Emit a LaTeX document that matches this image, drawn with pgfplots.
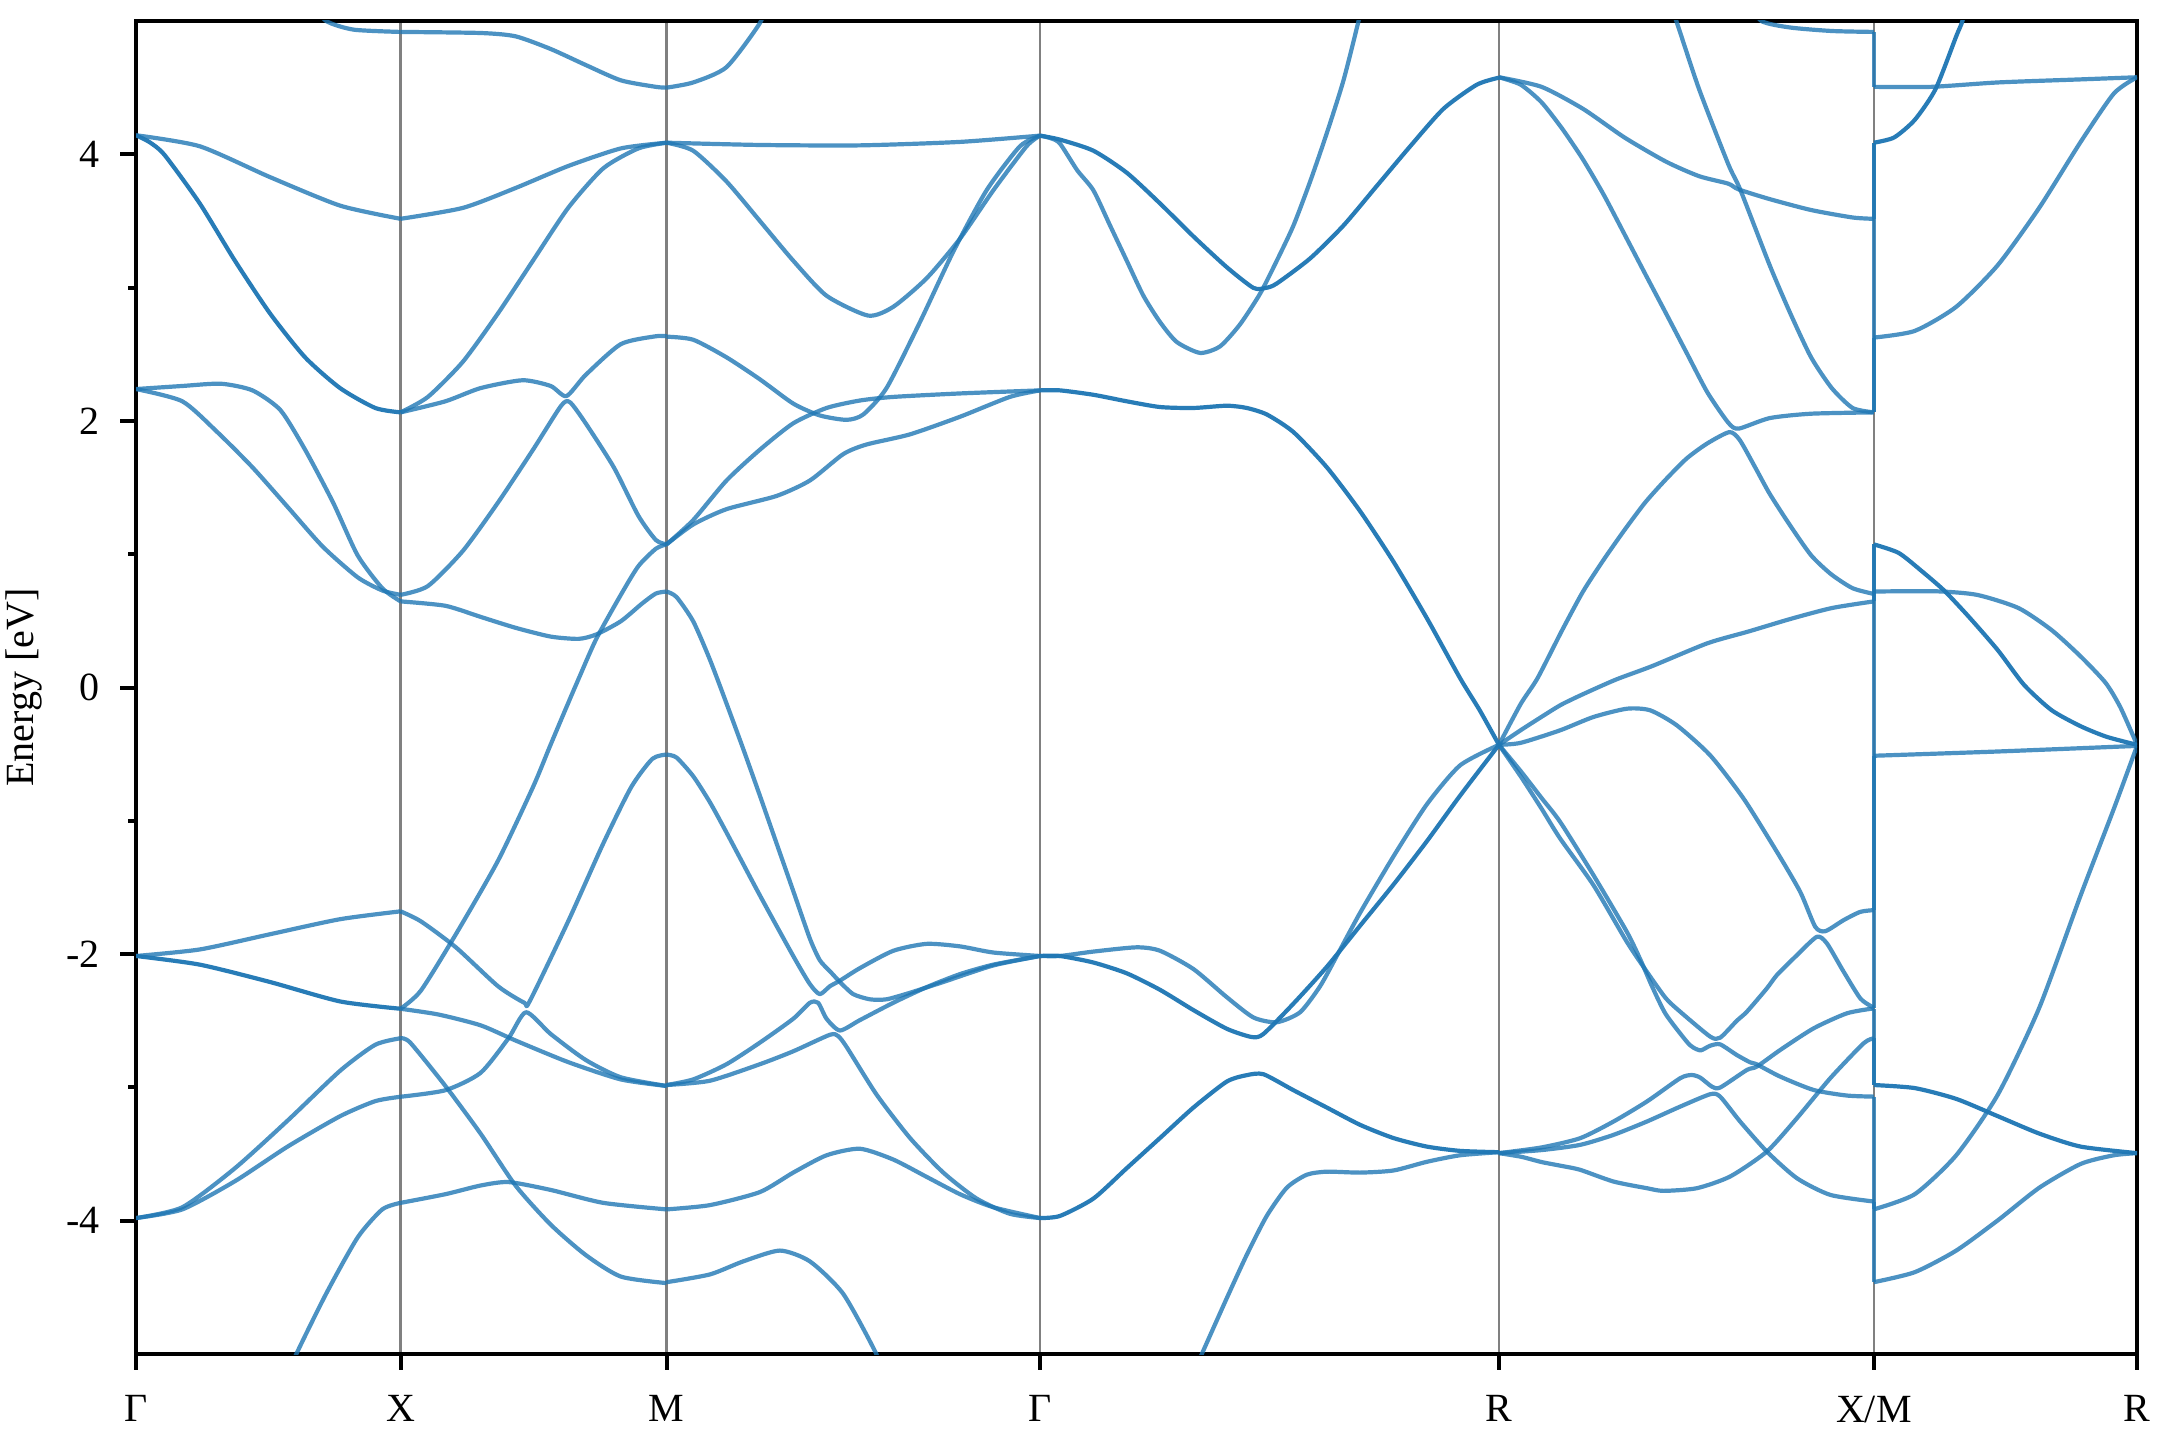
\documentclass[border=0pt]{standalone}
\usepackage{fontspec}
\setmainfont{Liberation Serif}
\usepackage{pgfplots}
\pgfplotsset{compat=1.18}
\definecolor{bandblue}{RGB}{31,119,180}
\tikzset{
  band/.style={color=bandblue, opacity=0.8, line width=1.05pt, line join=round, smooth, tension=0.4},
  deg/.style={band, opacity=0.96},
  vseg/.style={color=bandblue, opacity=0.8, line width=1.05pt},
}
\begin{document}
\begin{tikzpicture}
\begin{axis}[
  width=500.25pt, height=333.25pt, scale only axis,
  xmin=0, xmax=1452, ymin=-5, ymax=5,
  xtick={0,192,385,656,989,1261,1452},
  xticklabels={Γ,X,M,Γ,R,X/M,R},
  ytick={-4,-2,0,2,4},
  minor ytick={-3,-1,1,3},
  xtick pos=left, ytick pos=left,
  tick align=outside,
  major tick length=3.9pt, minor tick length=2pt,
  every tick/.style={black, line width=1pt},
  axis line style={line width=1.1pt},
  xmajorgrids, grid style={gray, line width=0.55pt},
  ylabel={Energy [eV]},
  ylabel style={at={(axis description cs:-0.056,0.5)}, anchor=center},
  /pgf/number format/assume math mode=true,
  xticklabel style={yshift=-3pt},
  yticklabel style={xshift=-1.7pt},
]
% ---------------- Gamma - X ----------------
\addplot[band] coordinates {(125,5.15)(138,5.0)(158,4.935)(192,4.918)};
\addplot[band] coordinates {(0,4.143)(46.3,4.06)(97.2,3.829)(148.1,3.615)(192,3.516)};
\addplot[deg] coordinates {(0,4.143)(10,4.09)(20.8,3.994)(46.3,3.631)(71.7,3.203)(97.2,2.807)(122.7,2.477)(148.1,2.246)(173.6,2.097)(192,2.064)};
\addplot[band] coordinates {(0,2.239)(33.6,2.262)(61.6,2.279)(84.5,2.229)(104.8,2.081)(122.7,1.784)(143,1.388)(160.8,0.992)(178.7,0.745)(192,0.646)};
\addplot[band] coordinates {(0,2.239)(33.6,2.147)(59,1.916)(84.5,1.652)(110,1.355)(135.4,1.058)(160.8,0.827)(178.7,0.728)(192,0.695)};
\addplot[band] coordinates {(0,-2.014)(46.3,-1.965)(97.2,-1.851)(148.1,-1.738)(192,-1.679)};
\addplot[deg] coordinates {(0,-2.014)(46.3,-2.079)(97.2,-2.209)(148.1,-2.355)(192,-2.41)};
\addplot[band] coordinates {(0,-3.98)(33.6,-3.899)(71.7,-3.607)(110,-3.249)(148.1,-2.875)(173.6,-2.68)(192,-2.631)};
\addplot[band] coordinates {(0,-3.98)(33.6,-3.915)(71.7,-3.704)(110,-3.444)(148.1,-3.216)(173.6,-3.103)(192,-3.07)};
\addplot[band] coordinates {(112,-5.15)(115,-5.03)(137.9,-4.549)(160.8,-4.126)(178.7,-3.915)(192,-3.866)};
% ---------------- X - M ----------------
\addplot[band] coordinates {(192,4.918)(250,4.91)(275.4,4.885)(300.9,4.79)(326.3,4.67)(351.8,4.555)(377.2,4.506)(385,4.50)};
\addplot[band] coordinates {(192,3.516)(237.2,3.598)(275.4,3.747)(313.6,3.912)(351.8,4.044)(385,4.087)};
\addplot[band] coordinates {(192,2.064)(211.8,2.18)(237.2,2.444)(262.7,2.807)(288.1,3.203)(313.6,3.598)(339.1,3.895)(364.5,4.044)(385,4.087)};
\addplot[band] coordinates {(192,2.064)(224.5,2.147)(250,2.246)(280.5,2.305)(300.9,2.262)(312.3,2.186)(326.3,2.345)(351.8,2.576)(377.2,2.635)(385,2.635)};
\addplot[band] coordinates {(192,0.695)(211.8,0.761)(237.2,1.025)(262.7,1.388)(288.1,1.784)(308.5,2.114)(314.9,2.14)(326.3,1.982)(346.7,1.652)(364.5,1.289)(377.2,1.107)(385,1.074)};
\addplot[band] coordinates {(192,0.646)(224.5,0.613)(250,0.53)(275.4,0.448)(300.9,0.382)(321.2,0.365)(334,0.398)(351.8,0.497)(367.1,0.629)(377.2,0.705)(385,0.72)};
\addplot[band] coordinates {(192,-2.41)(206.7,-2.274)(232.1,-1.851)(262.7,-1.299)(288.1,-0.746)(300,-0.45)(311,-0.18)(321.2,0.066)(334,0.365)(351.8,0.695)(364.5,0.91)(377.2,1.041)(385,1.074)};
\addplot[band] coordinates {(192,-1.679)(206.7,-1.754)(232.1,-1.949)(262.7,-2.241)(281.8,-2.365)(285.6,-2.355)(313.6,-1.754)(339.1,-1.169)(359.4,-0.746)(374.7,-0.535)(385,-0.503)};
\addplot[band] coordinates {(192,-3.07)(224.5,-3.021)(250,-2.891)(270.3,-2.631)(283,-2.436)(300.9,-2.599)(326.3,-2.794)(351.8,-2.924)(385,-2.989)};
\addplot[band] coordinates {(192,-2.41)(219.4,-2.453)(250,-2.534)(275.4,-2.648)(313.6,-2.81)(351.8,-2.94)(385,-2.989)};
\addplot[band] coordinates {(192,-2.631)(199,-2.664)(224.5,-2.989)(250,-3.346)(275.4,-3.736)(300.9,-4.029)(326.3,-4.257)(351.8,-4.419)(385,-4.468)};
\addplot[band] coordinates {(192,-3.866)(224.5,-3.801)(250,-3.736)(270.3,-3.71)(300.9,-3.769)(339.1,-3.866)(385,-3.915)};
% ---------------- M - Gamma ----------------
\addplot[band] coordinates {(385,4.50)(404.3,4.539)(428.5,4.654)(452.7,4.984)(458,5.15)};
\addplot[band] coordinates {(385,4.087)(452.7,4.07)(525.3,4.067)(597.9,4.093)(656,4.14)};
\addplot[band] coordinates {(385,4.087)(404.3,4.027)(428.5,3.796)(452.7,3.5)(476.9,3.202)(501.1,2.939)(531.3,2.79)(549.5,2.856)(573.7,3.07)(597.9,3.367)(622.1,3.73)(646.2,4.06)(656,4.14)};
\addplot[band] coordinates {(385,2.632)(404.3,2.609)(428.5,2.477)(452.7,2.312)(476.9,2.13)(496.2,2.041)(515.6,2.008)(527.7,2.048)(544.6,2.246)(568.8,2.74)(593,3.269)(617.2,3.73)(641.4,4.06)(656,4.14)};
\addplot[band] coordinates {(385,1.074)(404.3,1.256)(428.5,1.553)(452.7,1.784)(476.9,1.982)(501.1,2.097)(525.3,2.153)(549.5,2.18)(597.9,2.206)(656,2.229)};
\addplot[band] coordinates {(385,1.074)(404.3,1.223)(428.5,1.338)(464.8,1.437)(489,1.553)(513.2,1.751)(530.1,1.823)(561.6,1.899)(597.9,2.031)(634.1,2.18)(656,2.229)};
\addplot[band] coordinates {(385,0.72)(392.2,0.679)(404.3,0.497)(416.4,0.21)(428.5,-0.12)(440.6,-0.46)(452.7,-0.811)(464.8,-1.169)(476.9,-1.526)(489,-1.884)(496.2,-2.046)(503.5,-2.128)(510.8,-2.209)(520.4,-2.300)(532.5,-2.339)(544.6,-2.339)(561.6,-2.290)(585.8,-2.209)(622.1,-2.085)(656,-2.014)};
\addplot[band] coordinates {(385,-0.503)(392.2,-0.525)(404.3,-0.665)(416.4,-0.860)(428.5,-1.088)(452.7,-1.559)(476.9,-2.014)(489,-2.225)(496.2,-2.300)(503.5,-2.241)(510.8,-2.199)(525.3,-2.105)(549.5,-1.975)(573.7,-1.923)(597.9,-1.942)(622.1,-1.988)(656,-2.014)};
\addplot[band] coordinates {(385,-2.982)(404.3,-2.940)(428.5,-2.826)(452.7,-2.664)(476.9,-2.485)(489,-2.365)(495,-2.365)(501.1,-2.485)(510.8,-2.573)(525.3,-2.495)(549.5,-2.365)(573.7,-2.248)(597.9,-2.150)(622.1,-2.079)(656,-2.014)};
\addplot[band] coordinates {(385,-2.982)(416.4,-2.950)(452.7,-2.826)(476.9,-2.729)(503.5,-2.605)(509.5,-2.615)(515.6,-2.696)(537.4,-3.054)(561.6,-3.379)(585.8,-3.639)(610,-3.834)(634.1,-3.948)(656,-3.98)};
\addplot[band] coordinates {(385,-3.915)(416.4,-3.883)(452.7,-3.785)(476.9,-3.639)(501.1,-3.509)(525.3,-3.460)(549.5,-3.541)(573.7,-3.671)(597.9,-3.801)(622.1,-3.899)(656,-3.98)};
\addplot[band] coordinates {(385,-4.461)(416.4,-4.403)(440.6,-4.305)(467.2,-4.224)(489,-4.305)(513.2,-4.549)(537.4,-5.004)(540,-5.15)};
% ---------------- Gamma - R ----------------
\addplot[deg] coordinates {(656,4.14)(670.5,4.11)(694.7,4.027)(718.9,3.862)(743.1,3.631)(767.3,3.384)(791.5,3.153)(810.8,2.998)(820,2.998)(827.8,3.031)(852,3.219)(876.2,3.466)(900.4,3.763)(924.6,4.06)(948.7,4.341)(972.9,4.522)(989,4.575)};
\addplot[band] coordinates {(656,4.14)(664,4.12)(670.5,4.08)(683,3.88)(694.7,3.73)(706.8,3.466)(718.9,3.202)(731,2.939)(743.1,2.741)(755.2,2.592)(772.1,2.51)(786.6,2.559)(801.1,2.724)(815.7,2.955)(827.8,3.202)(839.9,3.466)(852,3.796)(864.1,4.159)(876.2,4.555)(887.1,5.0)(890,5.15)};
\addplot[deg] coordinates {(656,2.229)(670.5,2.229)(694.7,2.196)(718.9,2.147)(743.1,2.104)(767.3,2.097)(791.5,2.114)(806,2.097)(820.6,2.048)(839.9,1.916)(864.1,1.652)(888.3,1.322)(912.5,0.943)(936.7,0.52)(960.8,0.07)(975,-0.17)(989,-0.43)};
\addplot[band] coordinates {(656,-2.014)(670.5,-2.014)(694.7,-1.981)(726.1,-1.949)(743.1,-1.975)(767.3,-2.112)(791.5,-2.323)(810.8,-2.475)(827.8,-2.511)(844.7,-2.436)(859.2,-2.241)(871.3,-2.014)(888.3,-1.689)(912.5,-1.266)(936.7,-0.876)(960.8,-0.584)(989,-0.43)};
\addplot[deg] coordinates {(656,-2.014)(670.5,-2.014)(694.7,-2.063)(718.9,-2.144)(743.1,-2.268)(767.3,-2.42)(791.5,-2.560)(809.6,-2.622)(818.1,-2.599)(839.9,-2.371)(864.1,-2.095)(888.3,-1.786)(912.5,-1.478)(936.7,-1.153)(960.8,-0.811)(989,-0.43)};
\addplot[deg] coordinates {(656,-3.98)(670.5,-3.964)(694.7,-3.834)(718.9,-3.606)(743.1,-3.379)(767.3,-3.151)(791.5,-2.956)(806,-2.908)(818.1,-2.901)(839.9,-3.021)(864.1,-3.151)(888.3,-3.281)(912.5,-3.38)(936.7,-3.444)(960.8,-3.476)(989,-3.486)};
\addplot[band] coordinates {(765,-5.2)(772.1,-5.03)(791.5,-4.581)(806,-4.256)(820.5,-3.964)(835,-3.753)(849.5,-3.655)(864.1,-3.632)(888.3,-3.639)(912.5,-3.623)(936.7,-3.558)(960.8,-3.509)(989,-3.486)};
% ---------------- R - X ----------------
\addplot[band] coordinates {(989,4.578)(1019.9,4.506)(1050,4.341)(1080.1,4.126)(1110.2,3.945)(1134.2,3.836)(1155.3,3.78)(1162.8,3.737)(1185.4,3.664)(1215.5,3.582)(1245.6,3.526)(1261,3.516)};
\addplot[band] coordinates {(989,4.578)(1004.8,4.522)(1019.9,4.39)(1034.9,4.192)(1050,3.961)(1065,3.697)(1080.1,3.4)(1095.1,3.103)(1110.2,2.807)(1125.2,2.51)(1140.3,2.213)(1155.3,1.988)(1162.8,1.942)(1185.4,2.021)(1215.5,2.054)(1261,2.064)};
\addplot[band] coordinates {(1112,5.15)(1117.7,5.0)(1134.2,4.489)(1155.3,3.928)(1164.3,3.73)(1185.4,3.169)(1200.4,2.807)(1215.5,2.477)(1230.5,2.246)(1245.6,2.097)(1261,2.064)};
\addplot[band] coordinates {(1170,5.15)(1179.4,5.0)(1200.4,4.951)(1230.5,4.925)(1261,4.918)};
\addplot[band] coordinates {(989,-0.43)(1004.8,-0.123)(1017,0.07)(1034.9,0.431)(1050,0.72)(1065,0.959)(1080,1.18)(1095.1,1.388)(1110,1.56)(1125.2,1.718)(1140,1.83)(1156.2,1.916)(1163.7,1.857)(1175,1.65)(1185.4,1.454)(1200,1.22)(1215.5,0.992)(1230,0.85)(1245.6,0.745)(1261,0.702)};
\addplot[band] coordinates {(989,-0.43)(1004.8,-0.32)(1019.9,-0.22)(1034,-0.13)(1050,-0.05)(1074,0.06)(1100,0.16)(1140.3,0.332)(1170,0.42)(1200.4,0.514)(1230.5,0.596)(1261,0.646)};
\addplot[band] coordinates {(989,-0.43)(1004.8,-0.415)(1033.4,-0.321)(1057.6,-0.221)(1081.8,-0.159)(1098.7,-0.171)(1118.1,-0.284)(1142.3,-0.509)(1166.5,-0.833)(1190.7,-1.233)(1207.6,-1.533)(1218.5,-1.795)(1225.8,-1.828)(1239.1,-1.745)(1251.2,-1.683)(1261,-1.67)};
\addplot[band] coordinates {(989,-0.43)(1005,-0.67)(1020,-0.91)(1033.4,-1.133)(1057.6,-1.483)(1081.8,-1.908)(1096.3,-2.132)(1110,-2.33)(1120.5,-2.432)(1142.3,-2.619)(1149.5,-2.627)(1161.6,-2.50)(1168.9,-2.432)(1183.4,-2.257)(1190.7,-2.157)(1205,-2.01)(1219.7,-1.870)(1227,-1.92)(1239.1,-2.132)(1251.2,-2.332)(1259.6,-2.395)(1261,-2.41)};
\addplot[band] coordinates {(989,-0.43)(1005,-0.63)(1020,-0.83)(1033.4,-1.008)(1057.6,-1.408)(1081.8,-1.833)(1092,-2.05)(1100,-2.24)(1110,-2.45)(1125.3,-2.657)(1130.2,-2.702)(1135.5,-2.722)(1142.3,-2.687)(1149.5,-2.677)(1161.6,-2.757)(1171.3,-2.812)(1176.1,-2.827)(1193.1,-2.919)(1217.3,-3.019)(1241.5,-3.061)(1261,-3.069)};
\addplot[band] coordinates {(989,-3.493)(1020,-3.45)(1047.9,-3.381)(1072.1,-3.256)(1096.3,-3.106)(1120.5,-2.931)(1128.9,-2.907)(1135,-2.926)(1143.5,-2.994)(1149.5,-3.001)(1168.9,-2.869)(1176.1,-2.844)(1193.1,-2.719)(1217.3,-2.557)(1241.5,-2.444)(1261,-2.407)};
\addplot[band] coordinates {(989,-3.493)(1020,-3.47)(1047.9,-3.431)(1072.1,-3.356)(1096.3,-3.256)(1120.5,-3.144)(1142.3,-3.051)(1149.5,-3.069)(1164,-3.256)(1183.4,-3.481)(1205.2,-3.681)(1229.4,-3.806)(1261,-3.856)};
\addplot[band] coordinates {(989,-3.493)(1005,-3.52)(1020,-3.56)(1035,-3.59)(1047.9,-3.618)(1072.1,-3.706)(1096.3,-3.756)(1108.4,-3.776)(1132.6,-3.756)(1156.8,-3.668)(1183.4,-3.481)(1205.2,-3.231)(1229.4,-2.931)(1253.6,-2.669)(1261,-2.632)};
% ---------------- X/M jumps ----------------
\addplot[vseg] coordinates {(1261,4.918)(1261,4.506)};
\addplot[vseg] coordinates {(1261,3.516)(1261,4.087)};
\addplot[vseg] coordinates {(1261,2.064)(1261,4.087)};
\addplot[vseg] coordinates {(1261,2.064)(1261,2.625)};
\addplot[vseg] coordinates {(1261,0.702)(1261,1.074)};
\addplot[vseg] coordinates {(1261,0.646)(1261,1.074)};
\addplot[vseg] coordinates {(1261,-1.67)(1261,0.72)};
\addplot[vseg] coordinates {(1261,-2.407)(1261,-0.512)};
\addplot[vseg] coordinates {(1261,-2.41)(1261,-2.982)};
\addplot[vseg] coordinates {(1261,-2.632)(1261,-2.982)};
\addplot[vseg] coordinates {(1261,-3.069)(1261,-3.915)};
\addplot[vseg] coordinates {(1261,-3.856)(1261,-4.461)};
% ---------------- M - R ----------------
\addplot[band] coordinates {(1261,4.506)(1302.8,4.506)(1351,4.539)(1411.1,4.562)(1452,4.578)};
\addplot[deg] coordinates {(1261,4.087)(1275.7,4.126)(1290.7,4.258)(1305.8,4.489)(1320.8,4.885)(1325.3,5.0)(1328,5.15)};
\addplot[band] coordinates {(1261,2.625)(1290.7,2.675)(1320.8,2.856)(1351,3.169)(1381,3.598)(1411.1,4.093)(1435.2,4.456)(1452,4.578)};
\addplot[deg] coordinates {(1261,1.074)(1279,1.01)(1295,0.88)(1312,0.728)(1330,0.53)(1351,0.28)(1370,0.02)(1390,-0.17)(1411,-0.29)(1430,-0.37)(1452,-0.43)};
\addplot[band] coordinates {(1261,0.72)(1305.8,0.722)(1335.9,0.695)(1366,0.596)(1390,0.431)(1411.1,0.233)(1429.2,0.035)(1440,-0.15)(1452,-0.43)};
\addplot[band] coordinates {(1261,-0.512)(1351,-0.48)(1452,-0.438)};
\addplot[deg] coordinates {(1261,-2.982)(1290.7,-3.005)(1320.8,-3.086)(1351,-3.216)(1381,-3.346)(1411.1,-3.444)(1452,-3.493)};
\addplot[band] coordinates {(1261,-3.915)(1290.7,-3.801)(1320.8,-3.509)(1351,-3.054)(1381,-2.404)(1411.1,-1.559)(1435.2,-0.909)(1452,-0.438)};
\addplot[band] coordinates {(1261,-4.461)(1290.7,-4.386)(1320.8,-4.224)(1351,-3.997)(1381,-3.753)(1411.1,-3.574)(1435.2,-3.509)(1452,-3.493)};
\end{axis}
\pgfresetboundingbox
\path ([xshift=-34pt,yshift=-21.5pt]current axis.south west) rectangle ([xshift=5.75pt,yshift=5.25pt]current axis.north east);
\end{tikzpicture}
\end{document}
